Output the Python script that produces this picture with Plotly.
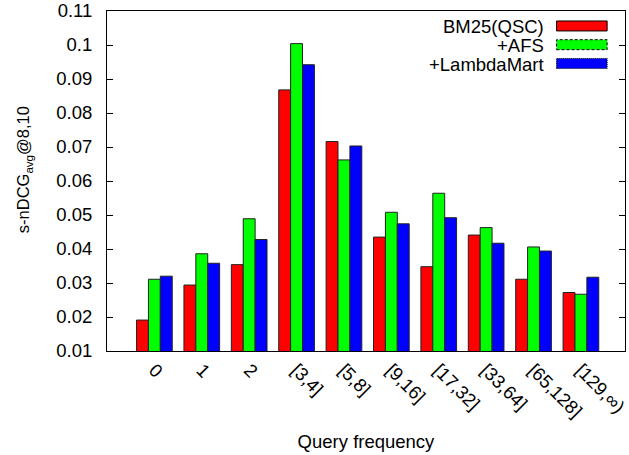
import plotly.graph_objects as go

categories = ["0", "1", "2", "[3,4]", "[5,8]", "[9,16]", "[17,32]", "[33,64]", "[65,128]", "[129,∞)"]
series_names = ["BM25(QSC)", "+AFS", "+LambdaMart"]
bm25 = [0.0191, 0.0294, 0.0354, 0.0868, 0.0716, 0.0435, 0.0348, 0.0441, 0.0311, 0.0272]
afs = [0.0311, 0.0386, 0.0489, 0.1004, 0.0662, 0.0508, 0.0564, 0.0463, 0.0406, 0.0267]
lambdamart = [0.0320, 0.0358, 0.0428, 0.0942, 0.0703, 0.0474, 0.0492, 0.0417, 0.0394, 0.0317]
y_ticks = [0.01, 0.02, 0.03, 0.04, 0.05, 0.06, 0.07, 0.08, 0.09, 0.1, 0.11]
y_tick_text = ["0.01", "0.02", "0.03", "0.04", "0.05", "0.06", "0.07", "0.08", "0.09", "0.1", "0.11"]
x_title = "Query frequency"
y_title = "s-nDCG<sub>avg</sub>@8,10"

colors = ["#ff0000", "#00ff00", "#0000ff"]
dashes = ["solid", "3px,2px", "1px,1px"]
FONT = "Liberation Sans, Arial, sans-serif"
FS = 18.5

W, H = 629, 455
ML, MR, MT, MB = 107, 0, 10, 104

xpos = list(range(len(categories)))
fig = go.Figure()
for name, vals, col in zip(series_names, [bm25, afs, lambdamart], colors):
    fig.add_trace(go.Bar(
        x=xpos, y=vals, name=name,
        marker=dict(color=col, line=dict(color="#222222", width=1)),
        showlegend=False,
    ))

pw = W - ML - MR
ph = H - MT - MB

def px_x(px):
    return (px - ML) / pw

def px_y(py):
    return (H - MB - py) / ph

# gnuplot-style legend: text on left, sample on right
for i, (name, col, dsh) in enumerate(zip(series_names, colors, dashes)):
    yc = 25 + i * 18.8
    fig.add_annotation(
        xref="paper", yref="paper", x=px_x(549), y=px_y(yc + 1),
        xanchor="right", yanchor="middle", text=name, showarrow=False,
        font=dict(family=FONT, size=FS, color="#000000"),
    )
    fig.add_shape(
        type="rect", xref="paper", yref="paper",
        x0=px_x(560), x1=px_x(611), y0=px_y(yc + 5), y1=px_y(yc - 5),
        fillcolor=col, line=dict(color="#000000", width=1, dash=dsh),
    )

# y-axis title (positioned as in the reference)
fig.add_annotation(
    xref="paper", yref="paper", x=px_x(23), y=px_y(169),
    xanchor="center", yanchor="middle", text=y_title, textangle=-90,
    showarrow=False, font=dict(family=FONT, size=16.5, color="#000000"),
)

fig.update_layout(
    width=W, height=H,
    margin=dict(l=ML, r=MR, t=MT, b=MB, pad=0),
    paper_bgcolor="white", plot_bgcolor="white",
    barmode="group", bargap=0.247, bargroupgap=0,
    font=dict(family=FONT, size=FS, color="#000000"),
    xaxis=dict(
        range=[-1, 9.93], tickmode="array", tickvals=xpos, ticktext=categories,
        tickangle=45, ticks="", showgrid=False, zeroline=False,
        showline=True, linecolor="#000000", linewidth=1, mirror=True,
        tickfont=dict(family=FONT, size=FS), ticklabeloverflow="allow",
        title=dict(text=x_title, standoff=14, font=dict(family=FONT, size=FS)),
    ),
    yaxis=dict(
        range=[0.01, 0.11], tickmode="array", tickvals=y_ticks, ticktext=y_tick_text,
        ticks="inside", ticklen=6, tickcolor="#000000", showgrid=False, zeroline=False,
        showline=True, linecolor="#000000", linewidth=1, mirror="ticks",
        tickfont=dict(family=FONT, size=FS), ticklabelstandoff=10, ticklabeloverflow="allow",
    ),
)

fig.write_html(
    "out.html",
    config={"displayModeBar": False},
    post_script="document.body.style.margin='0';document.body.style.overflow='hidden';",
)
